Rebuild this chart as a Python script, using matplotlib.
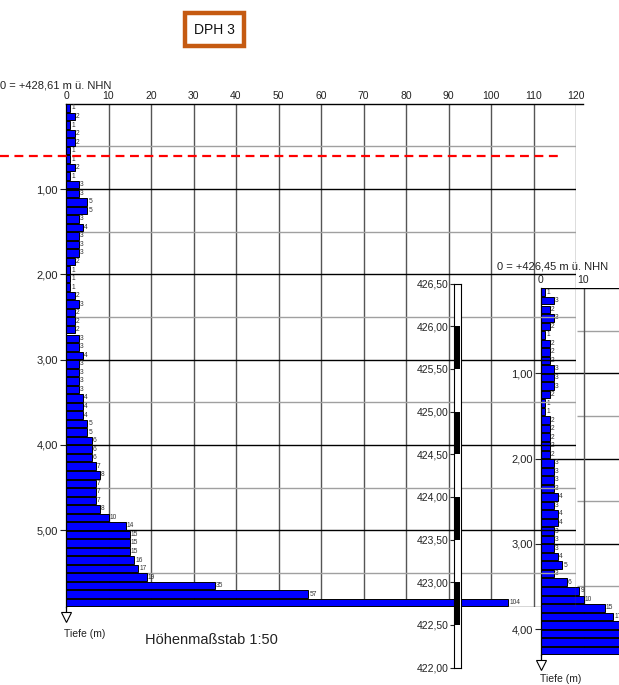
import matplotlib
matplotlib.use('Agg')
import matplotlib.pyplot as plt
from matplotlib.patches import Rectangle

plt.rcParams['font.family'] = ['Liberation Sans', 'DejaVu Sans']

# blows per 10 cm, DPH 3 (starts at 0,00 m)
dph3_n10 = [1, 2, 1, 2, 2, 1, 1, 2, 1, 3,
            3, 5, 5, 3, 4, 3, 3, 3, 2, 1,
            1, 1, 2, 3, 2, 2, 2, 3, 3, 4,
            3, 3, 3, 3, 4, 4, 4, 5, 5, 6,
            6, 6, 7, 8, 7, 7, 7, 8, 10, 14,
            15, 15, 15, 16, 17, 19, 35, 57, 104]
# neighbouring probing (cut off at the right edge)
dph_next_n10 = [1, 3, 2, 3, 2, 1, 2, 2, 2, 3,
                3, 3, 2, 1, 1, 2, 2, 2, 2, 2,
                3, 3, 3, 3, 4, 3, 4, 4, 3, 3,
                3, 4, 5, 3, 6, 9, 10, 15, 17, 21,
                23, 25, 28]
top1 = 428.61
top2 = 426.45
gw_depth = 0.61
elev_ticks = [426.5, 426.0, 425.5, 425.0, 424.5, 424.0, 423.5, 423.0, 422.5, 422.0]
x_ticks = list(range(0, 121, 10))

W, H = 619, 685
S = 85.3    # px per metre
U = 4.25    # px per blow
Y0 = 103.7  # pixel of 0 m of DPH 3

fig = plt.figure(figsize=(W / 100, H / 100), dpi=100)


def add_ax(x0, ytop, w, h):
    return fig.add_axes([x0 / W, 1 - (ytop + h) / H, w / W, h / H])


def ftext(x, y, s, **kw):
    fig.text(x / W, 1 - y / H, s, **kw)


def comma(v):
    return f"{v:.2f}".replace('.', ',')


def draw_probe(ax, vals, xmax):
    depth = len(vals) / 10
    ax.set_xlim(0, xmax)
    ax.set_ylim(depth, 0)
    ax.set_facecolor('none')
    for s in ['top', 'right', 'bottom']:
        ax.spines[s].set_visible(False)
    ax.spines['left'].set_linewidth(0.9)
    ys = [i / 10 + 0.05 for i in range(len(vals))]
    ax.barh(ys, vals, height=0.088, color='#0000ff', edgecolor='black',
            linewidth=0.7, zorder=2)
    for y, v in zip(ys, vals):
        if v < xmax:
            ax.text(v + 0.25, y, str(v), fontsize=4.8, color='#333333',
                    va='center', ha='left', zorder=3, clip_on=True)
    ticks = [m for m in range(1, int(depth) + 1)]
    ax.set_yticks(ticks)
    ax.set_yticklabels([comma(m) for m in ticks])
    ax.tick_params(axis='y', length=4.3, width=0.8, pad=1.5, labelsize=8,
                   colors='#222222')
    ax.xaxis.tick_top()
    ax.set_xticks([t for t in x_ticks if t <= xmax + 0.5])
    ax.tick_params(axis='x', length=0, pad=2, labelsize=7.5, colors='#222222')
    return depth


# neighbouring probing (underneath)
x2 = 541
ytop2 = Y0 + (top1 - top2) * S
xmax2 = (W - x2) / U
d2 = len(dph_next_n10) / 10
ax2 = add_ax(x2, ytop2, W - x2, d2 * S)
draw_probe(ax2, dph_next_n10, xmax2)
for m in range(1, 5):
    ax2.axhline(m, color='black', lw=1.0, zorder=0.5)
for k in range(1, 9, 2):
    ax2.hlines(k / 2, 8.5, xmax2, color='#a0a0a0', lw=1.0, zorder=0.5)
ax2.vlines(10, 0, d2, color='#555555', lw=1.0, zorder=0.5)
ax2.axhline(0, color='black', lw=1.0, zorder=0.5)
ax2.plot([0, 0], [d2, d2 + 0.07], color='black', lw=0.9, clip_on=False)
ax2.plot(0, d2 + 0.12, marker='v', ms=7, mfc='white', mec='black', mew=0.8,
         clip_on=False)

# DPH 3
d1 = len(dph3_n10) / 10
ax1 = add_ax(66, Y0, 120 * U, d1 * S)
draw_probe(ax1, dph3_n10, 120)
ax1.vlines(x_ticks[1:], 0, d1, color='#555555', lw=1.0, zorder=0.5)
for m in range(1, 6):
    ax1.axhline(m, color='black', lw=1.0, zorder=0.5)
for k in range(1, 12, 2):
    ax1.axhline(k / 2, color='#a0a0a0', lw=1.0, zorder=0.5)
ax1.plot([0, 121.6], [0, 0], color='black', lw=1.0, clip_on=False, zorder=0.6)
ax1.axhline(d1, color='#333333', lw=1.0, zorder=0.6)
ax1.plot([-66 / U, 116], [gw_depth, gw_depth], color='#ff0000', lw=1.6,
         ls=(0, (4, 2.5)), clip_on=False, zorder=4)
ax1.plot([0, 0], [d1, d1 + 0.07], color='black', lw=0.9, clip_on=False)
ax1.plot(0, d1 + 0.12, marker='v', ms=7, mfc='white', mec='black', mew=0.8,
         clip_on=False)

# elevation column
axc = add_ax(454, Y0 + (top1 - elev_ticks[0]) * S, 7, 4.5 * S)
axc.set_xlim(0, 1)
axc.set_ylim(elev_ticks[-1], elev_ticks[0])
axc.set_xticks([])
axc.set_yticks(elev_ticks)
axc.set_yticklabels([comma(v) for v in elev_ticks])
axc.tick_params(axis='y', length=3, width=0.8, pad=1, labelsize=7.5,
                colors='#222222')
for s in axc.spines.values():
    s.set_linewidth(0.8)
for t in elev_ticks[1:-1:2]:
    axc.fill_between([0.1, 0.9], t - 0.5, t, color='black', lw=0)

# texts
ftext(0, 86, "0 = +428,61 m ü. NHN", fontsize=8, va='center', ha='left',
      color='#222222')
ftext(497, 267, "0 = +426,45 m ü. NHN", fontsize=8, va='center', ha='left',
      color='#222222')
ftext(64, 634, "Tiefe (m)", fontsize=7.5, va='center', ha='left', color='#222222')
ftext(540, 679, "Tiefe (m)", fontsize=7.5, va='center', ha='left', color='#222222')
ftext(145, 640, "Höhenmaßstab 1:50", fontsize=10.5, va='center', ha='left',
      color='#222222')

fig.patches.append(Rectangle((185 / W, 1 - 46 / H), 59 / W, 33 / H,
                             transform=fig.transFigure, facecolor='white',
                             edgecolor='#c55a11', lw=3.2))
ftext(214.5, 30, "DPH 3", fontsize=10, va='center', ha='center',
      color='#111111')

fig.savefig('out.png', dpi=100)
